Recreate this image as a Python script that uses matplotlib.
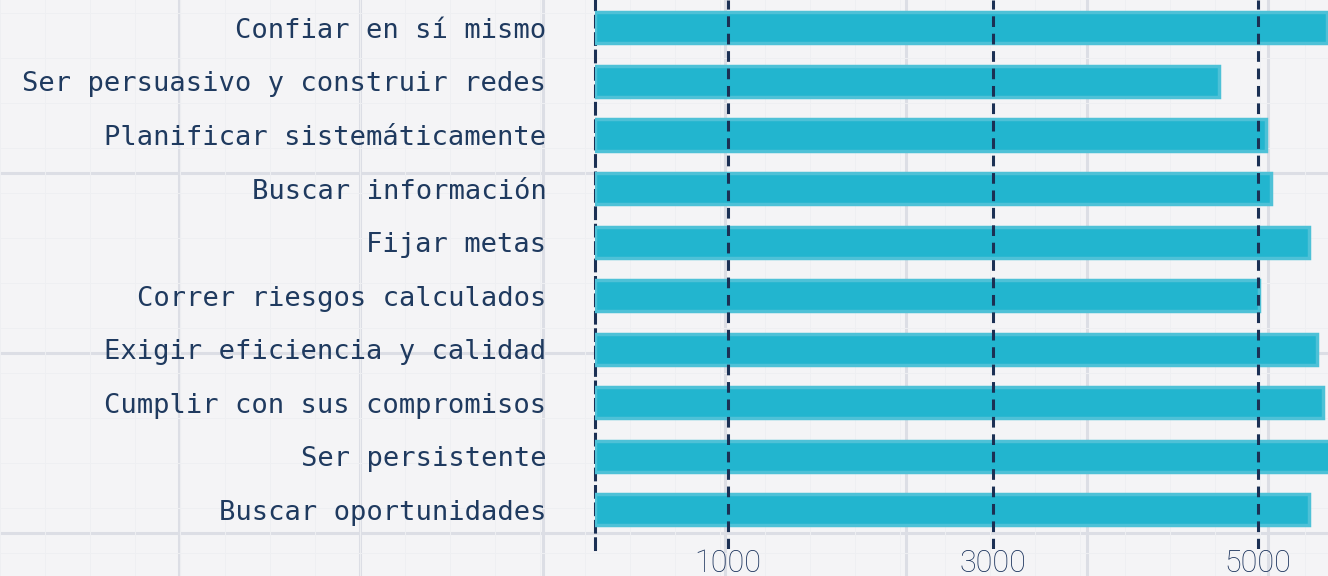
#!/usr/bin/env python3
"""Horizontal bar chart of entrepreneurial competences on a paper background."""

import matplotlib
matplotlib.use('Agg')
import matplotlib.pyplot as plt
import numpy as np

# data (bottom to top)
labels = [
    'Buscar oportunidades',
    'Ser persistente',
    'Cumplir con sus compromisos',
    'Exigir eficiencia y calidad',
    'Correr riesgos calculados',
    'Fijar metas',
    'Buscar información',
    'Planificar sistemáticamente',
    'Ser persuasivo y construir redes',
    'Confiar en sí mismo',
]
values = [5390, 5620, 5490, 5450, 5010, 5390, 5100, 5060, 4710, 5520]
xticks = [1000, 3000, 5000]

W, H = 1328, 576
BAR = '#22b5cf'
EDGE = '#4ec1d7'
NAVY = '#1b3054'
TEXT = '#1f3a5f'
PAPER = '#f4f4f6'

fig = plt.figure(figsize=(W / 100, H / 100), dpi=100)
fig.patch.set_facecolor(PAPER)

# paper grid in the background
bg = fig.add_axes([0, 0, 1, 1], zorder=0)
bg.set_xlim(0, W)
bg.set_ylim(H, 0)
bg.axis('off')
for gx in [179, 360, 543, 725, 906, 1087, 1268]:
    bg.axvline(gx, color='#dcdee5', lw=2.2, zorder=0)
for gy in [173, 353, 533]:
    bg.axhline(gy, color='#dcdee5', lw=2.2, zorder=0)
for gx in np.arange(0, W, 45):
    bg.axvline(gx, color='#eeeff2', lw=0.7, zorder=0)
for gy in np.arange(13, H, 45):
    bg.axhline(gy, color='#eeeff2', lw=0.7, zorder=0)

ax = fig.add_axes([595 / W, (H - 549) / H, (W - 595) / W, 549 / H], zorder=1)
ax.patch.set_alpha(0)

y = np.arange(len(labels))
ax.barh(y, values, height=0.58, color=BAR, edgecolor=EDGE, linewidth=2.5, zorder=3)

ax.set_xlim(0, 5530)
ax.set_ylim(-0.73, 9.52)

ax.set_yticks(y)
ax.set_yticklabels(labels, family='DejaVu Sans Mono', fontsize=19.5, color=TEXT)
ax.set_xticks(xticks)
ax.set_xticklabels([str(t) for t in xticks], family='Roboto', fontweight='light',
                   fontsize=22, color='#18305a')
ax.tick_params(axis='both', length=0)
ax.tick_params(axis='y', pad=35)
ax.tick_params(axis='x', pad=0)

for s in ['top', 'right', 'bottom']:
    ax.spines[s].set_visible(False)
ax.spines['left'].set_color(NAVY)
ax.spines['left'].set_linewidth(2.2)
ax.spines['left'].set_linestyle((0, (3.5, 2.2)))

for t in xticks:
    ax.axvline(t, color=NAVY, lw=2.2, ls=(0, (3.5, 2.2)), zorder=4)

fig.savefig('out.png', dpi=100, facecolor=fig.get_facecolor())
